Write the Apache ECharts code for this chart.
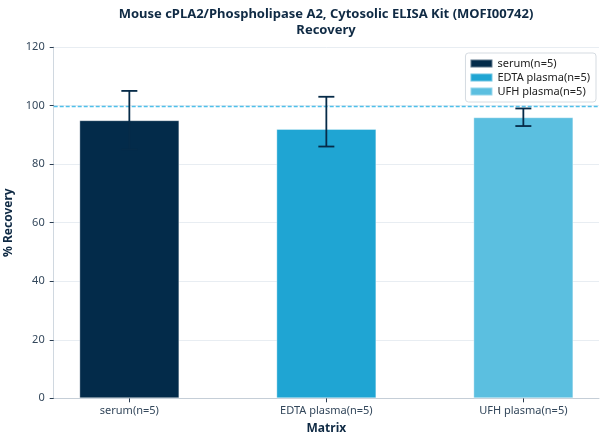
<!DOCTYPE html>
<html>
<head>
<meta charset="utf-8">
<script src="https://cdn.jsdelivr.net/npm/echarts@6/dist/echarts.min.js"></script>
<style>
  html, body { margin: 0; padding: 0; background: #fff; }
  #chart { width: 608px; height: 444px; }
</style>
</head>
<body>
<div id="chart"></div>
<script>
// values
const categories = ['serum(n=5)', 'EDTA plasma(n=5)', 'UFH plasma(n=5)'];
const recovery = [95, 92, 96];
const errLow = [85, 86, 93];
const errHigh = [105, 103, 99];
const yTicks = [0, 20, 40, 60, 80, 100, 120];
const refLine = 100;

const barColors = ['#032b4a', '#1fa5d3', '#5bbfe0'];
const inkColor = '#062b48';
const labelColor = '#33475b';

const chart = echarts.init(document.getElementById('chart'));

const barSeries = categories.map((name, i) => ({
    name: name,
    type: 'bar',
    barWidth: 100,
    barGap: '-100%',
    data: [[i, recovery[i]]],
    itemStyle: {
        color: barColors[i],
        borderColor: 'rgba(255,255,255,0.35)',
        borderWidth: 1
    },
    z: 2
}));

// dashed 100% line across the plot
const refSeries = {
    type: 'custom',
    name: 'ref',
    silent: true,
    data: [[0, refLine]],
    encode: { x: 0, y: 1 },
    z: 3,
    renderItem: (params, api) => {
        const cs = params.coordSys;
        const y = Math.round(api.coord([0, api.value(1)])[1]) + 0.5;
        return {
            type: 'line',
            shape: { x1: cs.x, y1: y, x2: cs.x + cs.width, y2: y },
            style: { stroke: '#4fc0ea', lineWidth: 1.4, lineDash: [4, 2] }
        };
    }
};

const errorSeries = {
    type: 'custom',
    name: 'error',
    silent: true,
    data: categories.map((c, i) => [i, errLow[i], errHigh[i]]),
    encode: { x: 0, y: [1, 2] },
    z: 5,
    renderItem: (params, api) => {
        const x = api.value(0);
        const lo = api.coord([x, api.value(1)]);
        const hi = api.coord([x, api.value(2)]);
        const half = 8;
        const style = { stroke: inkColor, lineWidth: 1.8 };
        return {
            type: 'group',
            children: [
                { type: 'line', shape: { x1: lo[0], y1: lo[1], x2: hi[0], y2: hi[1] }, style },
                { type: 'line', shape: { x1: hi[0] - half, y1: hi[1], x2: hi[0] + half, y2: hi[1] }, style },
                { type: 'line', shape: { x1: lo[0] - half, y1: lo[1], x2: lo[0] + half, y2: lo[1] }, style }
            ]
        };
    }
};

const option = {
    animation: false,
    textStyle: { fontFamily: 'Noto Sans, Open Sans, sans-serif' },
    title: {
        text: 'Mouse cPLA2/Phospholipase A2, Cytosolic ELISA Kit (MOFI00742)\nRecovery',
        left: 326,
        top: 6,
        padding: 0,
        textAlign: 'center',
        textStyle: { fontSize: 13, fontWeight: 'bold', color: '#0f2a44', lineHeight: 16 }
    },
    legend: {
        orient: 'vertical',
        right: 12,
        top: 53,
        data: categories,
        icon: 'rect',
        itemWidth: 22,
        itemHeight: 8,
        itemGap: 3,
        padding: [5, 6, 5, 4],
        backgroundColor: '#fff',
        borderColor: '#d5dbe1',
        borderWidth: 1,
        borderRadius: 3,
        textStyle: { fontSize: 11, color: '#222' }
    },
    grid: { left: 53.7, right: 9, top: 47, bottom: 45.7, outerBoundsMode: 'none' },
    xAxis: {
        type: 'value',
        min: -0.384,
        max: 2.384,
        name: 'Matrix',
        nameLocation: 'middle',
        nameGap: 24,
        nameTextStyle: { fontSize: 12, fontWeight: 'bold', color: '#0f2a44' },
        splitLine: { show: false },
        axisLine: { show: true, onZero: false, lineStyle: { color: '#c5ced7', width: 1 } },
        axisTick: { show: true, customValues: [0, 1, 2], length: 4, lineStyle: { color: '#2b3e52' } },
        axisLabel: {
            customValues: [0, 1, 2],
            formatter: v => categories[Math.round(v)] || '',
            fontSize: 11,
            color: labelColor,
            margin: 7
        }
    },
    yAxis: {
        type: 'value',
        min: 0,
        max: 120,
        interval: 20,
        name: '% Recovery',
        nameLocation: 'middle',
        nameGap: 30,
        nameTextStyle: { fontSize: 12, fontWeight: 'bold', color: '#0f2a44' },
        axisLine: { show: true, onZero: false, lineStyle: { color: '#d0d8e0', width: 1 } },
        axisTick: { show: true, length: 4, lineStyle: { color: '#2b3e52' } },
        axisLabel: {
            customValues: yTicks,
            fontSize: 11,
            color: labelColor,
            margin: 9
        },
        splitLine: { show: true, lineStyle: { color: '#e8edf2', width: 1 } }
    },
    series: [...barSeries, refSeries, errorSeries]
};

chart.setOption(option);
</script>
</body>
</html>
